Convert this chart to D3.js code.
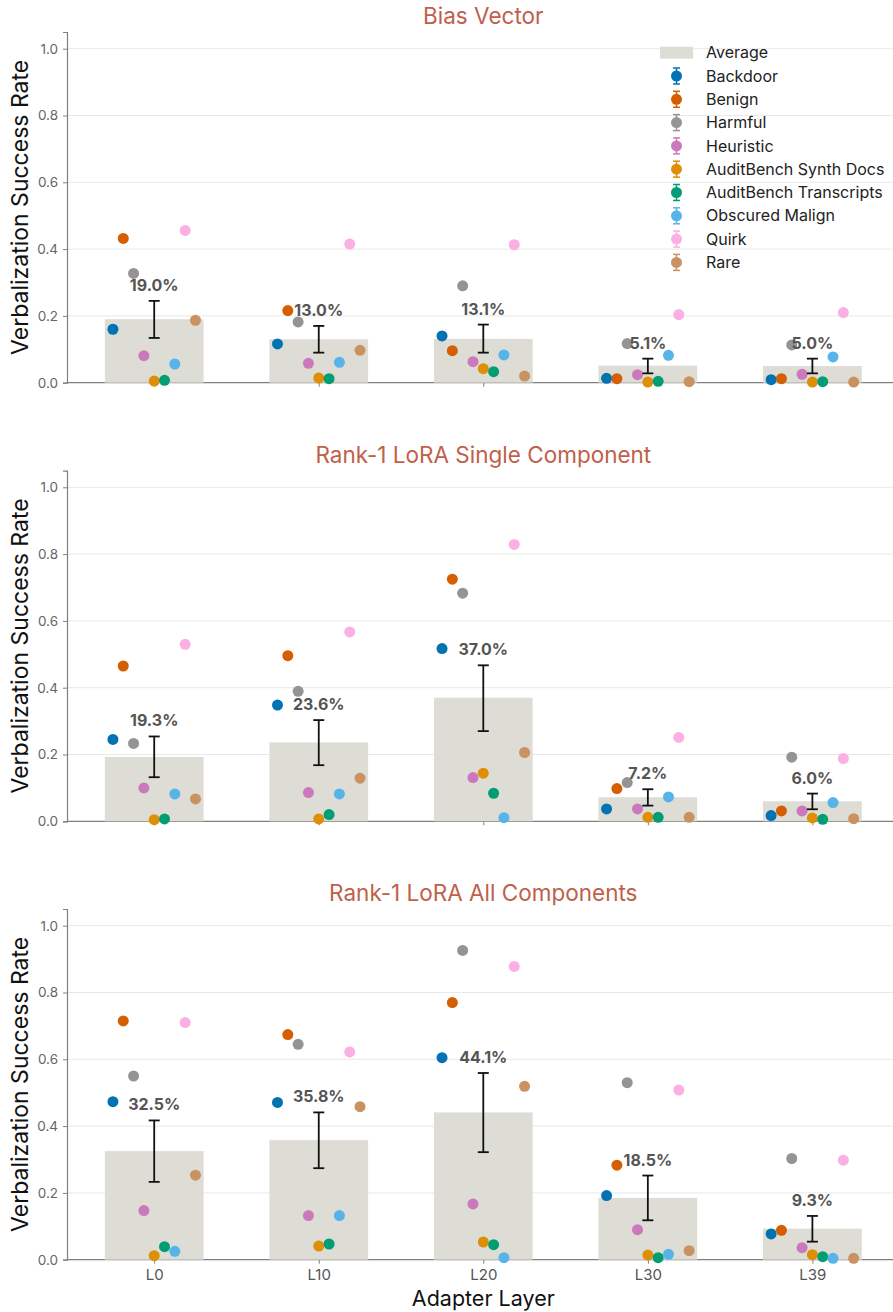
<!DOCTYPE html>
<html>
<head>
<meta charset="utf-8">
<script src="https://cdn.jsdelivr.net/npm/d3@7"></script>
<style>
  body { margin: 0; background: #fff; font-family: Inter, "Noto Sans", sans-serif; }
  svg text { font-family: Inter, "Noto Sans", sans-serif; }
</style>
</head>
<body>
<div id="app"></div>
<script>
const layers = ['L0', 'L10', 'L20', 'L30', 'L39'];
const seriesNames = ['Backdoor', 'Benign', 'Harmful', 'Heuristic', 'AuditBench Synth Docs',
  'AuditBench Transcripts', 'Obscured Malign', 'Quirk', 'Rare'];
const seriesColors = ['#0173b2', '#d55e00', '#949494', '#cc78bc', '#de8f05',
  '#029e73', '#56b4e9', '#fbafe4', '#ca9161'];
const panelTitles = ['Bias Vector', 'Rank-1 LoRA Single Component', 'Rank-1 LoRA All Components'];
const yTicks = [0, 0.2, 0.4, 0.6, 0.8, 1.0];

// per panel, per layer: values in seriesNames order
const biasValues = [
  [0.160, 0.432, 0.327, 0.081, 0.005, 0.007, 0.056, 0.456, 0.187],
  [0.116, 0.216, 0.182, 0.058, 0.014, 0.012, 0.061, 0.415, 0.097],
  [0.140, 0.096, 0.290, 0.063, 0.042, 0.033, 0.083, 0.413, 0.020],
  [0.013, 0.012, 0.117, 0.024, 0.002, 0.004, 0.082, 0.204, 0.003],
  [0.009, 0.012, 0.113, 0.025, 0.002, 0.003, 0.077, 0.210, 0.002]
];
const singleValues = [
  [0.245, 0.465, 0.233, 0.100, 0.005, 0.007, 0.082, 0.530, 0.067],
  [0.348, 0.496, 0.389, 0.086, 0.007, 0.020, 0.082, 0.567, 0.129],
  [0.517, 0.725, 0.683, 0.131, 0.144, 0.084, 0.011, 0.829, 0.206],
  [0.037, 0.098, 0.116, 0.037, 0.012, 0.012, 0.073, 0.251, 0.012],
  [0.017, 0.031, 0.192, 0.031, 0.010, 0.006, 0.056, 0.188, 0.008]
];
const allValues = [
  [0.473, 0.715, 0.550, 0.147, 0.012, 0.039, 0.025, 0.710, 0.253],
  [0.471, 0.674, 0.645, 0.132, 0.041, 0.047, 0.132, 0.622, 0.458],
  [0.605, 0.770, 0.926, 0.167, 0.053, 0.045, 0.006, 0.878, 0.519],
  [0.192, 0.283, 0.530, 0.090, 0.014, 0.006, 0.016, 0.508, 0.027],
  [0.077, 0.088, 0.303, 0.036, 0.015, 0.009, 0.004, 0.298, 0.004]
];

const biasMean = [0.190, 0.130, 0.131, 0.051, 0.050];
const singleMean = [0.193, 0.236, 0.370, 0.072, 0.060];
const allMean = [0.325, 0.358, 0.441, 0.185, 0.093];

const biasErrLow = [0.134, 0.090, 0.090, 0.028, 0.028];
const biasErrHigh = [0.245, 0.170, 0.174, 0.072, 0.072];
const singleErrLow = [0.132, 0.168, 0.270, 0.047, 0.036];
const singleErrHigh = [0.254, 0.303, 0.467, 0.096, 0.083];
const allErrLow = [0.233, 0.274, 0.322, 0.118, 0.054];
const allErrHigh = [0.417, 0.441, 0.559, 0.252, 0.131];

const panels = [
  { title: panelTitles[0], values: biasValues, mean: biasMean, lo: biasErrLow, hi: biasErrHigh },
  { title: panelTitles[1], values: singleValues, mean: singleMean, lo: singleErrLow, hi: singleErrHigh },
  { title: panelTitles[2], values: allValues, mean: allMean, lo: allErrLow, hi: allErrHigh }
];

const W = 893, H = 1312;
const left = 67, right = 899.6;
const panelTop = [48.7 - 0.05 * 334, 487.3 - 0.05 * 334, 925.7 - 0.05 * 334];
const plotH = 334 * 1.05;

const svg = d3.select('#app').append('svg')
  .attr('width', W).attr('height', H);

const x = d3.scaleLinear().domain([-0.53, 4.53]).range([left, right]);
const bandW = x(1) - x(0);
const dodge = 0.0627;

panels.forEach((p, pi) => {
  const top = panelTop[pi];
  const y = d3.scaleLinear().domain([0, 1.05]).range([top + plotH, top]);
  const g = svg.append('g');

  // grid
  g.selectAll('.grid').data(yTicks.slice(1)).enter().append('line')
    .attr('x1', left).attr('x2', W)
    .attr('y1', d => y(d)).attr('y2', d => y(d))
    .attr('stroke', '#e8e8e8').attr('stroke-width', 1);

  // y axis
  const yAxis = d3.axisLeft(y).tickValues(yTicks).tickFormat(d3.format('.1f')).tickSize(4).tickPadding(5);
  const ya = g.append('g').attr('transform', 'translate(' + left + ',0)').call(yAxis);
  ya.select('.domain').attr('stroke', '#808080').attr('stroke-width', 1.2);
  ya.selectAll('.tick line').attr('stroke', '#808080');
  ya.selectAll('.tick text').attr('fill', '#666').style('font-size', '13.5px');

  // x axis
  const xAxis = d3.axisBottom(x).tickValues(d3.range(layers.length))
    .tickFormat(i => pi === 2 ? layers[i] : '').tickSize(4).tickPadding(6);
  const xa = g.append('g').attr('transform', 'translate(0,' + y(0) + ')').call(xAxis);
  xa.select('.domain').attr('d', 'M' + left + ',0H' + W).attr('stroke', '#808080').attr('stroke-width', 1.2);
  xa.selectAll('.tick line').attr('stroke', '#808080');
  xa.selectAll('.tick text').attr('fill', '#555').style('font-size', '15px');

  // bars
  g.selectAll('.bar').data(p.mean).enter().append('rect')
    .attr('x', (d, i) => x(i - 0.3))
    .attr('width', bandW * 0.6)
    .attr('y', d => y(d))
    .attr('height', d => y(0) - y(d))
    .attr('fill', '#dddcd5');

  // points
  p.values.forEach((vals, li) => {
    g.selectAll(null).data(vals).enter().append('circle')
      .attr('cx', (d, k) => x(li + (k - 4) * dodge))
      .attr('cy', d => y(d))
      .attr('r', 5.5)
      .attr('fill', (d, k) => seriesColors[k]);
  });

  // mean error bars
  p.mean.forEach((m, i) => {
    const cx = x(i);
    const eg = g.append('g').attr('stroke', '#111').attr('stroke-width', 1.8);
    eg.append('line').attr('x1', cx).attr('x2', cx).attr('y1', y(p.lo[i])).attr('y2', y(p.hi[i]));
    eg.append('line').attr('x1', cx - 5.5).attr('x2', cx + 5.5).attr('y1', y(p.lo[i])).attr('y2', y(p.lo[i]));
    eg.append('line').attr('x1', cx - 5.5).attr('x2', cx + 5.5).attr('y1', y(p.hi[i])).attr('y2', y(p.hi[i]));
  });

  // mean labels
  g.selectAll('.lbl').data(p.mean).enter().append('text')
    .attr('x', (d, i) => x(i))
    .attr('y', (d, i) => y(p.hi[i]) - 10)
    .attr('text-anchor', 'middle')
    .attr('fill', '#555')
    .style('font-size', '16px')
    .style('font-weight', 'bold')
    .text(d => (d * 100).toFixed(1) + '%');

  // title
  g.append('text')
    .attr('x', x(2)).attr('y', top - 8)
    .attr('text-anchor', 'middle')
    .attr('fill', '#c0604a')
    .style('font-size', '22.5px')
    .text(p.title);

  // y label
  g.append('text')
    .attr('transform', 'translate(28,' + (top + plotH / 2) + ') rotate(-90)')
    .attr('text-anchor', 'middle')
    .attr('fill', '#111')
    .style('font-size', '23px')
    .text('Verbalization Success Rate');
});

// x label
svg.append('text')
  .attr('x', x(2)).attr('y', 1306)
  .attr('text-anchor', 'middle')
  .attr('fill', '#111')
  .style('font-size', '21.5px')
  .text('Adapter Layer');

//////////LEGEND//////////
const lg = svg.append('g').attr('transform', 'translate(660,52.7)');
const rowH = 23.3;
lg.append('rect').attr('x', 0).attr('y', -6).attr('width', 33).attr('height', 12).attr('fill', '#dddcd5');
lg.append('text').attr('x', 46).attr('y', 0).attr('dy', '0.35em')
  .attr('fill', '#222').style('font-size', '16px').text('Average');
seriesNames.forEach((name, k) => {
  const row = lg.append('g').attr('transform', 'translate(0,' + ((k + 1) * rowH) + ')');
  const c = seriesColors[k];
  row.append('line').attr('x1', 16.5).attr('x2', 16.5).attr('y1', -8).attr('y2', 8).attr('stroke', c).attr('stroke-width', 1.5);
  row.append('line').attr('x1', 13).attr('x2', 20).attr('y1', -8).attr('y2', -8).attr('stroke', c).attr('stroke-width', 1.5);
  row.append('line').attr('x1', 13).attr('x2', 20).attr('y1', 8).attr('y2', 8).attr('stroke', c).attr('stroke-width', 1.5);
  row.append('circle').attr('cx', 16.5).attr('cy', 0).attr('r', 5.5).attr('fill', c);
  row.append('text').attr('x', 46).attr('y', 0).attr('dy', '0.35em')
    .attr('fill', '#222').style('font-size', '16px').text(name);
});
</script>
</body>
</html>
